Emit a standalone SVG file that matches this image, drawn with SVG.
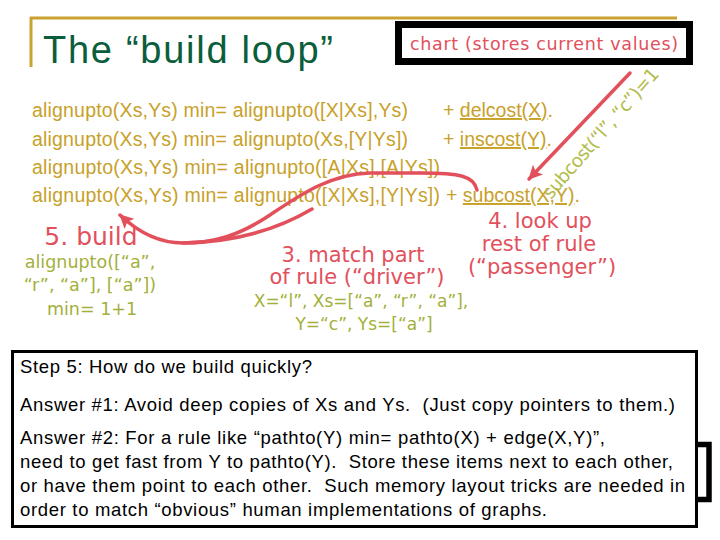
<svg xmlns="http://www.w3.org/2000/svg" width="720" height="540" viewBox="0 0 720 540">
<defs>
<style>
.rule{font-family:"Liberation Sans",Arial,sans-serif;font-size:19.5px;fill:#c7a12a}
.hand{font-family:"DejaVu Sans","Noto Sans",sans-serif}
.red{fill:#e2505c}
.grn{fill:#a3b03a}
.note{font-family:"Liberation Sans",Arial,sans-serif;font-size:18.5px;fill:#000;white-space:pre}
.u{text-decoration:underline}
</style>
<marker id="ah" markerUnits="userSpaceOnUse" markerWidth="16" markerHeight="14" refX="13" refY="7" orient="auto">
<path d="M0,0 L14,7 L0,14 L3,7 Z" fill="#e2505c"/>
</marker>
</defs>
<rect width="720" height="540" fill="#fff"/>

<g id="title">
<line x1="30" y1="18" x2="677" y2="18" stroke="#c9a230" stroke-width="3"/>
<line x1="31" y1="17" x2="31" y2="67" stroke="#c9a230" stroke-width="3"/>
<text x="43" y="63" font-family="Liberation Sans,Arial,sans-serif" font-size="38" fill="#0b5e3c" textLength="290">The “build loop”</text>
</g>

<g id="chart">
<rect x="398.5" y="24.5" width="291" height="37" fill="#fff" stroke="#000" stroke-width="7"/>
<text x="544" y="50" text-anchor="middle" class="hand red" font-size="17.5" textLength="268">chart (stores current values)</text>
</g>

<g id="rules">
<text x="32" y="117" class="rule" textLength="376">alignupto(Xs,Ys) min= alignupto([X|Xs],Ys)</text>
<text x="443" y="117" class="rule">+ <tspan class="u">delcost(X)</tspan>.</text>
<text x="32" y="146" class="rule" textLength="376">alignupto(Xs,Ys) min= alignupto(Xs,[Y|Ys])</text>
<text x="443" y="146" class="rule">+ <tspan class="u">inscost(Y)</tspan>.</text>
<text x="32" y="174" class="rule" textLength="408">alignupto(Xs,Ys) min= alignupto([A|Xs],[A|Ys])</text>
<text x="32" y="202" class="rule" textLength="408">alignupto(Xs,Ys) min= alignupto([X|Xs],[Y|Ys])</text>
<text x="446" y="202" class="rule">+ <tspan class="u">subcost(X,Y)</tspan>.</text>
<text transform="translate(551,200) rotate(-49)" class="hand" font-size="18.5" fill="#b3bc4a" textLength="166">subcost(“l”, “c”)=1</text>
</g>

<g id="label-build">
<text x="91" y="245" text-anchor="middle" class="hand red" font-size="25">5. build</text>
<text x="90" y="268" text-anchor="middle" class="hand grn" font-size="17.5">alignupto([“a”,</text>
<text x="90" y="291" text-anchor="middle" class="hand grn" font-size="17.5">“r”, “a”], [“a”])</text>
<text x="92" y="315" text-anchor="middle" class="hand grn" font-size="17.5">min= 1+1</text>
</g>

<g id="label-match">
<text x="353" y="262" text-anchor="middle" class="hand red" font-size="21">3. match part</text>
<text x="357" y="284" text-anchor="middle" class="hand red" font-size="21">of rule (“driver”)</text>
<text x="361" y="307" text-anchor="middle" class="hand grn" font-size="17">X=“l”, Xs=[“a”, “r”, “a”],</text>
<text x="364" y="330" text-anchor="middle" class="hand grn" font-size="17">Y=“c”, Ys=[“a”]</text>
</g>

<g id="label-lookup">
<text x="540" y="228" text-anchor="middle" class="hand red" font-size="21">4. look up</text>
<text x="539" y="251" text-anchor="middle" class="hand red" font-size="21">rest of rule</text>
<text x="542" y="274" text-anchor="middle" class="hand red" font-size="21">(“passenger”)</text>
</g>

<g id="connectors" fill="none" stroke="#e2505c" stroke-width="3.5" stroke-linecap="round">
<line x1="630" y1="73" x2="529" y2="179" marker-end="url(#ah)"/>
<path d="M477,190 C474,176 460,173 420,173 L370,173 C330,174 300,195 270,215 C240,235 215,243 183,243 C160,243 138,232 120,215" marker-end="url(#ah)"/>
<path d="M312,209 C280,228 240,242 183,243"/>
</g>

<g id="hidden-box">
<rect x="600" y="444.5" width="109" height="55" fill="#fff" stroke="#000" stroke-width="5.5"/>
</g>

<g id="notes">
<rect x="12.5" y="351.5" width="684" height="175" fill="#fff" stroke="#000" stroke-width="3"/>
<text x="20" y="373" class="note" textLength="292">Step 5: How do we build quickly?</text>
<text x="20" y="411" class="note" textLength="655">Answer #1: Avoid deep copies of Xs and Ys.  (Just copy pointers to them.)</text>
<text x="20" y="444" class="note" textLength="585">Answer #2: For a rule like “pathto(Y) min= pathto(X) + edge(X,Y)”,</text>
<text x="20" y="468" class="note" textLength="653">need to get fast from Y to pathto(Y).  Store these items next to each other,</text>
<text x="20" y="492" class="note" textLength="665">or have them point to each other.  Such memory layout tricks are needed in</text>
<text x="20" y="516" class="note" textLength="527">order to match “obvious” human implementations of graphs.</text>
</g>
</svg>
